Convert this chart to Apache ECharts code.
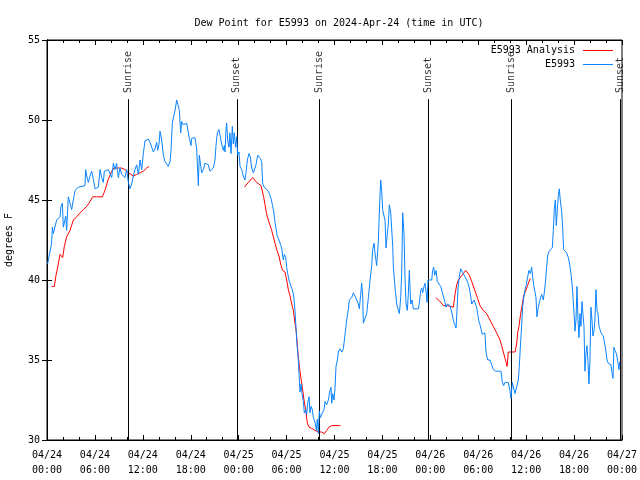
<!DOCTYPE html>
<html>
<head>
<meta charset="utf-8">
<script src="https://cdn.jsdelivr.net/npm/echarts@6/dist/echarts.min.js"></script>
<style>html,body{margin:0;padding:0;background:#fff}#c{width:640px;height:480px}</style>
</head>
<body>
<div id="c"></div>
<script>
// Hours since 2024-04-24 00:00 UTC, dew point in degrees F
const xTickLabels = ['04/24\n00:00','04/24\n06:00','04/24\n12:00','04/24\n18:00','04/25\n00:00','04/25\n06:00','04/25\n12:00','04/25\n18:00','04/26\n00:00','04/26\n06:00','04/26\n12:00','04/26\n18:00','04/27\n00:00'];
const yTicks = [30, 35, 40, 45, 50, 55];

const obsSeries = [
[0.08,41.0],[0.17,41.25],[0.58,42.3],[0.67,43.3],[0.79,42.9],[1.21,43.75],[1.63,43.96],[1.75,44.6],[1.92,44.8],[2.05,43.3],[2.34,44.0],[2.46,43.1],[2.67,45.2],[2.88,44.8],[3.09,44.4],[3.3,45.0],[3.51,45.6],[3.92,45.8],[4.76,45.9],[4.84,46.9],[4.97,46.5],[5.18,46.1],[5.38,46.5],[5.59,46.8],[5.8,46.3],[6.01,45.7],[6.43,45.8],[6.64,46.9],[6.85,46.4],[7.05,46.1],[7.18,46.8],[7.68,46.9],[7.89,47.0],[8.1,46.4],[8.31,47.3],[8.52,46.9],[8.72,47.3],[8.93,46.4],[9.14,47.0],[9.35,46.6],[9.77,46.4],[9.98,46.9],[10.19,46.1],[10.39,45.7],[10.6,46.0],[10.81,46.5],[11.02,46.9],[11.23,47.2],[11.44,46.6],[11.65,47.5],[11.86,46.9],[12.06,47.9],[12.27,48.7],[12.69,48.8],[12.9,48.6],[13.11,48.5],[13.32,48.0],[13.52,48.2],[13.73,48.6],[13.86,48.1],[14.03,48.5],[14.15,49.3],[14.36,48.75],[14.57,47.8],[14.78,47.4],[14.99,47.5],[15.19,47.1],[15.4,47.4],[15.53,48.1],[15.69,49.8],[16.03,50.6],[16.24,51.25],[16.44,51.35],[16.57,50.6],[16.74,49.2],[16.86,49.9],[17.07,49.7],[17.49,49.8],[17.7,49.7],[17.82,48.85],[18.03,48.4],[18.11,48.85],[18.53,48.9],
[18.74,48.2],[18.95,45.9],[19.07,47.8],[19.37,46.7],[19.58,46.9],[19.78,47.3],[20.2,47.2],[20.41,46.8],[20.83,47.0],[21.04,47.5],[21.16,48.4],[21.33,49.2],[21.54,49.4],[21.75,49.4],[21.87,48.5],[22.08,48.1],[22.21,48.4],[22.29,48.0],[22.41,49.4],[22.5,49.8],[22.62,48.75],[22.79,48.3],[22.91,49.2],[23.04,47.9],[23.21,49.6],[23.33,48.5],[23.46,49.2],[23.62,48.3],[23.75,48.95],[23.87,47.8],[24.04,48.0],[24.17,47.1],[24.38,46.9],[24.58,46.5],[24.79,46.25],[24.92,46.7],[25.09,47.5],[25.29,47.9],[25.46,47.7],[25.63,47.0],[25.84,46.7],[26.05,46.6],[26.17,47.2],[26.38,47.8],[26.55,47.7],[26.71,47.6],[26.88,47.4],[27.01,46.0],[27.21,45.8],[27.42,45.9],[27.63,45.6],[27.84,45.4],[28.05,45.1],[28.22,44.7],[28.38,44.3],[28.55,43.6],[28.68,43.2],[28.8,42.8],[28.97,42.6],[29.09,42.7],[29.26,42.2],[29.38,42.0],[29.59,41.25],[29.72,41.6],[29.89,41.4],[30.01,40.8],[30.14,40.4],[30.3,40.0],[30.43,39.8],[30.55,39.6],[30.72,39.4],[30.89,39.0],[31.05,38.1],[31.18,37.0],[31.3,36.0],[31.47,35.0],[31.6,33.75],[31.68,33.0],[31.81,33.5],[31.93,32.9],[32.1,32.4],[32.22,31.7],[32.39,31.9],[32.52,31.6],[32.64,32.3],[32.81,32.7],[32.93,31.7],[33.06,32.1],[33.22,31.9],[33.35,31.4],[33.47,31.3],[33.6,31.05],[33.73,30.6],[33.85,31.3],[33.98,30.4],[34.1,31.8],[34.23,31.4],[34.39,31.6],[34.52,31.5],[34.69,31.9],[34.81,32.4],[35.02,32.2],[35.23,32.5],[35.39,33.0],[35.56,33.3],
[35.65,32.3],[35.77,32.9],[35.94,32.5],[36.07,33.3],[36.19,34.6],[36.36,35.0],[36.48,35.5],[36.69,35.7],[36.9,35.5],[37.11,35.7],[37.32,36.6],[37.53,37.5],[37.74,38.2],[37.86,38.75],[38.15,38.9],[38.36,39.2],[38.57,39.0],[38.78,38.9],[38.99,38.5],[39.11,38.2],[39.28,39.1],[39.4,39.8],[39.53,39.0],[39.61,37.3],[39.82,37.6],[40.03,37.9],[40.24,38.9],[40.45,40.0],[40.66,40.9],[40.78,41.9],[40.95,42.3],[41.07,41.7],[41.28,40.9],[41.49,42.4],[41.57,43.6],[41.7,45.3],[41.78,46.25],[41.91,45.6],[42.03,44.4],[42.2,44.0],[42.33,43.75],[42.45,42.0],[42.62,41.9],[42.74,43.5],[42.87,44.7],[43.04,44.2],[43.16,43.2],[43.29,42.1],[43.37,40.8],[43.5,40.0],[43.62,39.3],[43.79,38.5],[44.0,38.1],[44.12,37.9],[44.29,38.9],[44.41,40.4],[44.54,44.2],[44.71,42.8],[44.83,40.1],[44.96,38.5],[45.12,38.1],[45.25,39.2],[45.37,40.6],[45.54,38.5],[45.71,38.75],[45.87,38.2],[46.21,38.2],[46.5,38.2],[46.63,38.6],[46.79,39.3],[46.92,39.5],[47.04,39.2],[47.21,39.6],[47.33,39.8],[47.46,39.3],[47.59,38.6],[47.71,40.0],[47.96,40.1],[48.17,40.0],[48.29,40.6],[48.42,40.8],[48.55,40.3],[48.71,40.6],[48.88,39.9],[49.05,39.8],[49.3,39.6],[49.55,39.5],[49.84,38.6],[49.96,38.3],[50.13,38.5],[50.3,38.4],[50.46,38.4],[50.67,38.0],[50.8,38.1],[50.92,37.4],[51.09,37.3],[51.22,37.0],[51.34,38.1],[51.47,39.5],[51.63,40.2],[51.8,40.7],[51.97,40.6],[52.13,40.4],[52.34,40.5],[52.55,40.0],[52.72,39.8],[52.88,39.5],[53.05,39.0],[53.18,38.5],[53.3,38.6],[53.47,38.75],[53.68,38.75],
[53.8,38.3],[53.92,37.9],[54.09,37.4],[54.22,37.2],[54.34,37.1],[54.51,36.6],[54.68,36.7],[54.84,36.7],[54.97,35.5],[55.18,35.0],[55.47,35.0],[55.68,34.9],[55.89,34.4],[56.18,34.3],[56.51,34.3],[56.85,34.3],[57.01,33.65],[57.18,33.4],[57.35,33.6],[57.6,33.5],[57.76,33.6],[57.97,33.1],[58.1,32.6],[58.26,33.6],[58.43,33.5],[58.6,32.9],[58.85,32.9],[59.02,33.75],[59.14,34.6],[59.27,35.8],[59.43,37.1],[59.56,38.3],[59.68,38.85],[59.85,39.4],[60.02,39.7],[60.19,40.2],[60.35,40.6],[60.52,40.4],[60.69,40.8],[60.81,40.2],[60.94,39.7],[61.1,39.8],[61.23,38.9],[61.35,37.7],[61.52,38.3],[61.73,38.75],[61.94,39.1],[62.15,38.75],[62.27,39.2],[62.44,40.0],[62.56,40.8],[62.69,41.5],[62.86,41.8],[63.11,41.9],[63.27,42.0],[63.4,43.1],[63.52,44.4],[63.65,45.0],[63.77,43.4],[63.9,44.4],[64.02,45.2],[64.15,45.7],[64.27,45.0],[64.44,44.3],[64.57,43.3],[64.69,41.9],[64.86,41.8],[65.07,41.7],[65.28,41.4],[65.44,41.0],[65.61,40.4],[65.78,39.6],[65.94,38.3],[66.03,37.7],[66.11,36.8],[66.24,37.5],[66.36,39.6],[66.49,37.5],[66.61,36.4],[66.74,37.9],[66.86,37.1],[66.99,38.65],[67.11,37.9],[67.24,37.1],[67.36,34.3],[67.49,35.4],[67.61,35.9],[67.74,34.9],[67.86,33.5],[67.99,35.0],[68.11,38.3],[68.24,37.5],[68.36,36.5],[68.49,36.8],[68.61,37.5],[68.74,39.4],[68.87,38.1],[68.99,37.9],[69.12,37.1],[69.24,37.1],[69.37,36.7],[69.49,36.6],[69.66,36.5],[69.78,36.4],[69.95,35.7],[70.12,35.0],[70.28,34.8],[70.45,34.7],[70.62,34.7],[70.74,34.2],[70.87,33.85],[70.99,35.8],[71.12,35.6],[71.29,35.4],[71.45,35.0],[71.62,34.4],[71.7,34.9]
];

const analysisSeries = [
[0.58,39.6],[0.92,39.6],[1.13,40.3],[1.42,41.0],[1.63,41.6],[1.84,41.6],[1.96,41.4],[2.17,42.1],[2.46,42.7],[2.67,42.8],[2.88,43.1],[3.3,43.75],[3.72,43.96],[4.13,44.2],[4.55,44.4],[4.97,44.6],[5.38,44.9],[5.72,45.2],[6.22,45.2],[6.93,45.2],[7.26,45.6],[7.68,46.3],[8.1,46.8],[8.39,47.0],[8.72,47.0],[9.35,47.0],[9.77,46.9],[10.19,46.7],[10.52,46.6],[10.81,46.5],[11.23,46.6],[11.65,46.7],[12.06,46.8],[12.48,47.0],[12.77,47.1],
[18.0,null],
[24.71,45.8],[25.21,46.1],[25.75,46.4],[26.25,46.1],[26.8,45.9],[26.96,45.8],[27.13,45.2],[27.3,44.7],[27.51,44.1],[27.71,43.75],[27.92,43.65],[28.13,43.1],[28.34,42.7],[28.55,42.3],[28.76,41.9],[29.05,41.5],[29.3,40.9],[29.51,40.6],[29.8,40.5],[30.01,40.0],[30.22,39.4],[30.43,39.0],[30.64,38.5],[30.85,38.1],[31.05,37.3],[31.18,36.9],[31.34,36.0],[31.47,35.2],[31.6,34.6],[31.76,34.0],[31.97,33.3],[32.18,32.5],[32.39,31.9],[32.6,31.05],[32.81,30.8],[33.14,30.73],[33.56,30.6],[33.98,30.5],[34.39,30.5],[34.73,30.4],[35.02,30.6],[35.31,30.8],[35.64,30.9],[36.75,30.9],
[42.0,null],
[48.71,38.9],[49.21,38.65],[49.63,38.4],[50.13,38.4],[50.38,38.3],[50.88,38.3],[51.09,39.1],[51.3,39.7],[51.51,40.0],[51.8,40.2],[52.13,40.4],[52.43,40.6],[52.63,40.7],[52.88,40.3],[53.18,39.9],[53.47,39.5],[53.92,38.85],[54.22,38.4],[54.63,38.1],[55.05,37.9],[55.47,37.5],[55.89,37.1],[56.3,36.7],[56.72,36.25],[56.93,35.9],[57.14,35.5],[57.35,35.1],[57.47,34.9],[57.6,34.6],[57.68,35.0],[57.76,35.5],[58.18,35.5],[58.6,35.5],[58.81,36.0],[58.93,36.7],[59.1,37.1],[59.31,37.9],[59.52,38.5],[59.73,39.1],[59.93,39.3],[60.14,39.6],[60.35,39.9],[60.52,40.1]
];

const eventHours = [10.17, 23.77, 34.15, 47.78, 58.13, 71.8];
const eventNames = ['Sunrise', 'Sunset', 'Sunrise', 'Sunset', 'Sunrise', 'Sunset'];

const FONT = 'DejaVu Sans Mono';
const chart = echarts.init(document.getElementById('c'), null, {renderer: 'canvas'});

const axisCommon = {
  min: 0, max: 72, interval: 6, type: 'value',
  axisLine: {show: true, lineStyle: {color: '#000', width: 1}},
  axisTick: {show: true, inside: true, length: 5, lineStyle: {color: '#000'}},
  minorTick: {show: true, splitNumber: 3, length: 3, lineStyle: {color: '#000'}},
  splitLine: {show: false}, minorSplitLine: {show: false}
};
const yCommon = {
  type: 'value', min: yTicks[0], max: yTicks[yTicks.length - 1], interval: 5,
  axisLine: {show: true, lineStyle: {color: '#000', width: 1}},
  axisTick: {show: true, inside: true, length: 5, lineStyle: {color: '#000'}},
  splitLine: {show: false}
};

chart.setOption({
  animation: false,
  backgroundColor: '#fff',
  title: {
    text: 'Dew Point for E5993 on 2024-Apr-24 (time in UTC)',
    left: 334, top: 13, textAlign: 'center',
    textStyle: {fontFamily: FONT, fontSize: 10, fontWeight: 'normal', color: '#000'}
  },
  legend: {
    data: ['E5993 Analysis', 'E5993'],
    orient: 'vertical', right: 27, top: 44, align: 'right', padding: 0,
    icon: 'rect', itemWidth: 30, itemHeight: 1, itemGap: 1,
    textStyle: {fontFamily: FONT, fontSize: 10, color: '#000', lineHeight: 13, padding: [0, 3, 0, 0]},
    selectedMode: false
  },
  grid: {left: 47, right: 18, top: 40, bottom: 40, show: true, borderColor: '#000', borderWidth: 1, containLabel: false, outerBoundsMode: 'none'},
  xAxis: [
    Object.assign({}, axisCommon, {
      position: 'bottom',
      axisLabel: {
        show: true, margin: 8, showMinLabel: true, showMaxLabel: true,
        fontFamily: FONT, fontSize: 10, color: '#000', lineHeight: 15,
        formatter: v => xTickLabels[Math.round(v / 6)]
      }
    }),
    Object.assign({}, axisCommon, {position: 'top', axisLabel: {show: false}})
  ],
  yAxis: [
    Object.assign({}, yCommon, {
      position: 'left',
      name: 'degrees F', nameLocation: 'middle', nameGap: 33, nameRotate: 90,
      nameTextStyle: {fontFamily: FONT, fontSize: 10, color: '#000'},
      axisLabel: {show: true, margin: 7, fontFamily: FONT, fontSize: 10, color: '#000'}
    }),
    Object.assign({}, yCommon, {position: 'right', axisLabel: {show: false}})
  ],
  series: [
    {
      name: 'events', type: 'scatter', xAxisIndex: 0, yAxisIndex: 0,
      symbolSize: 0, silent: true, z: 3,
      data: eventHours.map((h, i) => ({value: [h, 51.68], name: eventNames[i]})),
      label: {
        show: true, position: 'inside', rotate: 90, align: 'left', verticalAlign: 'middle',
        fontFamily: FONT, fontSize: 10, color: '#000',
        formatter: p => eventNames[p.dataIndex]
      },
      markLine: {
        silent: true, symbol: 'none', animation: false,
        label: {show: false},
        lineStyle: {color: '#000', width: 1, type: 'solid'},
        data: eventHours.map(h => [{coord: [h, 51.3]}, {coord: [h, 30]}])
      }
    },
    {
      name: 'E5993 Analysis', type: 'line', xAxisIndex: 0, yAxisIndex: 0,
      data: analysisSeries, showSymbol: false, symbol: 'none', connectNulls: false,
      lineStyle: {color: '#ff0000', width: 1}, itemStyle: {color: '#ff0000'}, z: 4
    },
    {
      name: 'E5993', type: 'line', xAxisIndex: 0, yAxisIndex: 0,
      data: obsSeries, showSymbol: false, symbol: 'none',
      lineStyle: {color: '#0a84ff', width: 1}, itemStyle: {color: '#0a84ff'}, z: 5
    }
  ]
});
</script>
</body>
</html>
